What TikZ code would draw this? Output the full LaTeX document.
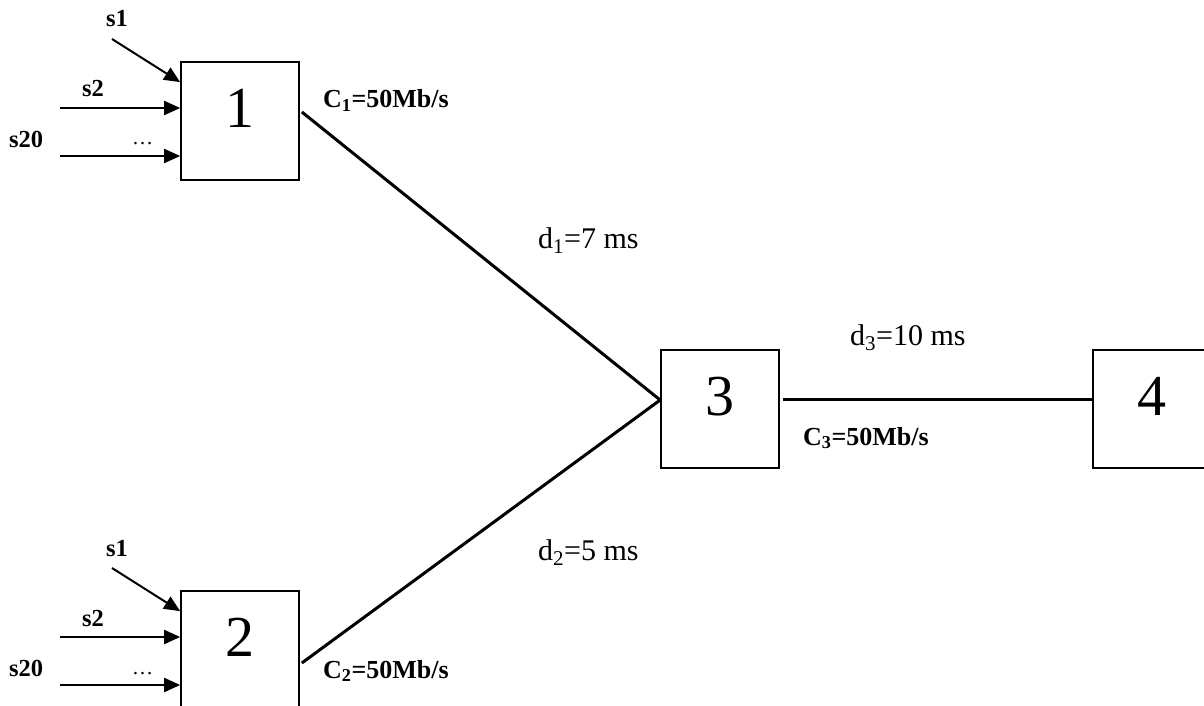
\documentclass[tikz,border=0pt]{standalone}
\usepackage{fontspec}
\setmainfont{Liberation Serif}
\usetikzlibrary{arrows.meta}

\begin{document}
\begin{tikzpicture}[x=1pt,y=-1pt,
  router/.style={draw,line width=1.7pt,minimum width=118pt,minimum height=118pt,
    inner sep=0pt,font=\fontsize{58}{60}\selectfont,text height=39pt,text depth=26pt},
  link/.style={line width=3pt},
  feed/.style={line width=2pt,-{Triangle[length=16pt,width=14pt]}},
  srclabel/.style={inner sep=0pt,anchor=base west,font=\fontsize{24.5}{28}\selectfont\bfseries},
  dotslabel/.style={inner sep=0pt,anchor=base west,font=\fontsize{21}{24}\selectfont},
  capacity/.style={inner sep=0pt,anchor=base west,font=\fontsize{26}{30}\selectfont\bfseries},
  delay/.style={inner sep=0pt,anchor=base west,font=\fontsize{30}{36}\selectfont},
]
\useasboundingbox (0,0) rectangle (1204,706);
\clip (0,0) rectangle (1204,706);

% routers
\node[router] (n1) at (240,121) {1};
\node[router] (n2) at (240,650) {2};
\node[router] (n3) at (720,409) {3};
\node[router] (n4) at (1152,409) {4};

% links between routers
\draw[link] ([xshift=2pt,yshift=9pt]n1.east) -- ([yshift=9pt]n3.west);
\draw[link] ([xshift=2pt,yshift=-13pt]n2.east) -- ([yshift=9pt]n3.west);
\draw[link] ([xshift=3pt,yshift=10pt]n3.east) -- ([yshift=10pt]n4.west);

% sources feeding router 1
\coordinate (a1s1) at (112,39);
\coordinate (a1s2) at (60,108);
\coordinate (a1s20) at (60,156);
\draw[feed] (a1s1) -- ([yshift=-21pt]n1.north west);
\draw[feed] (a1s2) -- ([yshift=13pt]n1.west);
\draw[feed] (a1s20) -- ([yshift=-35pt]n1.west);
\node[srclabel] (l1s1) at (106,27) {s1};
\node[srclabel] (l1s2) at (82,97) {s2};
\node[srclabel] (l1s20) at (9,147) {s20};
\node[dotslabel] (l1d) at (132,145) {…};

% sources feeding router 2
\coordinate (a2s1) at (112,568);
\coordinate (a2s2) at (60,637);
\coordinate (a2s20) at (60,685);
\draw[feed] (a2s1) -- ([yshift=-21pt]n2.north west);
\draw[feed] (a2s2) -- ([yshift=13pt]n2.west);
\draw[feed] (a2s20) -- ([yshift=-35pt]n2.west);
\node[srclabel] (l2s1) at (106,556) {s1};
\node[srclabel] (l2s2) at (82,626) {s2};
\node[srclabel] (l2s20) at (9,676) {s20};
\node[dotslabel] (l2d) at (132,674) {…};

% link capacities and delays
\node[capacity] (c1) at (323,108) {C\textsubscript{1}=50Mb/s};
\node[capacity] (c2) at (323,678) {C\textsubscript{2}=50Mb/s};
\node[capacity] (c3) at (803,445) {C\textsubscript{3}=50Mb/s};
\node[delay] (d1) at (538,248) {d\textsubscript{1}=7 ms};
\node[delay] (d2) at (538,560) {d\textsubscript{2}=5 ms};
\node[delay] (d3) at (850,345) {d\textsubscript{3}=10 ms};
\end{tikzpicture}
\end{document}
